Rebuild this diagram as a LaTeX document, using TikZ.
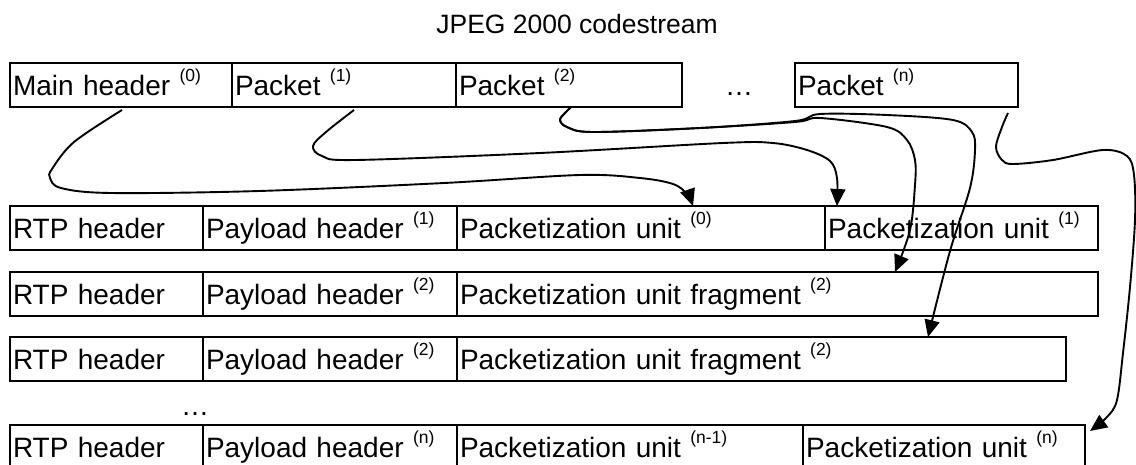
\documentclass[tikz,border=0pt]{standalone}
\usepackage{fontspec}
\setmainfont{Liberation Sans}
\usetikzlibrary{arrows.meta,calc}
\newcommand\mysup[1]{\raisebox{13.5pt}{\fontsize{17.5pt}{17.5pt}\selectfont(#1)}}
\begin{document}
\begin{tikzpicture}[x=1pt,y=-1pt,
  cell/.style={draw, line width=1.8pt, anchor=north west, outer sep=0pt,
    minimum height=44pt, inner xsep=3pt, inner ysep=0pt, align=left,
    text height=20pt, text depth=0pt, font=\fontsize{28pt}{33pt}\selectfont},
  plain/.style={font=\fontsize{28pt}{33pt}\selectfont, anchor=base, inner sep=0pt},
  conn/.style={line width=1.9pt, -{Triangle[length=17pt,width=15pt]}}]
\useasboundingbox (0,0) rectangle (1136,464);
\clip (0,0) rectangle (1136,464);
% title
\node[font=\fontsize{26.5pt}{30pt}\selectfont, anchor=base, inner sep=0pt] (title) at (577,33) {JPEG 2000 codestream};
% codestream
\node[cell, text width=216pt] (main) at (10,63) {Main header \mysup{0}};
\node[cell, text width=218pt] (p1) at (main.north east) {Packet \mysup{1}};
\node[cell, text width=220pt] (p2) at (p1.north east) {Packet \mysup{2}};
\node[plain] (dotsA) at (739,95) {…};
\node[cell, text width=217pt] (pn) at (795,63) {Packet \mysup{n}};
% row 1
\node[cell, text width=187pt] (rtp1) at (10,206) {RTP header};
\node[cell, text width=248pt] (ph1) at (rtp1.north east) {Payload header \mysup{1}};
\node[cell, text width=362pt] (pu0) at (ph1.north east) {Packetization unit \mysup{0}};
\node[cell, text width=267pt] (pu1) at (pu0.north east) {Packetization unit \mysup{1}};
% row 2
\node[cell, text width=187pt] (rtp2) at (10,272) {RTP header};
\node[cell, text width=248pt] (ph2) at (rtp2.north east) {Payload header \mysup{2}};
\node[cell, text width=635pt] (pfa) at (ph2.north east) {Packetization unit fragment \mysup{2}};
% row 3
\node[cell, text width=187pt] (rtp3) at (10,337) {RTP header};
\node[cell, text width=248pt] (ph3) at (rtp3.north east) {Payload header \mysup{2}};
\node[cell, text width=603pt] (pfb) at (ph3.north east) {Packetization unit fragment \mysup{2}};
\node[plain] (dotsB) at (195,415) {…};
% row 4
\node[cell, text width=187pt] (rtp4) at (10,425) {RTP header};
\node[cell, text width=248pt] (phn) at (rtp4.north east) {Payload header \mysup{n}};
\node[cell, text width=340pt] (pun1) at (phn.north east) {Packetization unit \mysup{n-1}};
\node[cell, text width=276pt] (pun) at (pun1.north east) {Packetization unit \mysup{n}};
% connector ends
\coordinate (s1) at ($(main.south west)+(112,3)$);
\coordinate (e1) at ($(pu0.north west)+(236,0)$);
\coordinate (s2) at ($(p1.south west)+(122,3)$);
\coordinate (e2) at ($(pu1.north west)+(12,0)$);
\coordinate (s3) at ($(p2.south west)+(115,0)$);
\coordinate (e3) at ($(pfa.north west)+(438,0)$);
\coordinate (e4) at ($(pfb.north west)+(471,0)$);
\coordinate (s5) at ($(pn.south west)+(213,6)$);
\coordinate (e5) at ($(pun.north east)+(5,6)$);
% connectors
\draw[conn] plot[smooth, tension=0.55] coordinates {(s1) (74,142) (52,169) (50,178) (61,188) (111,193) (259,191) (444,183) (580,175) (640,178) (673,184) (687,194) (e1)};
\draw[conn] plot[smooth, tension=0.55] coordinates {(s2) (326,132) (313,146) (322,156) (355,160) (540,153) (723,143) (773,143) (807,150) (830,161) (837,178) (e2)};
\draw[conn] plot[smooth, tension=0.55] coordinates {(s3) (565,113) (560,120) (567,127) (593,132) (700,128) (795,122) (820,118) (887,127) (907,140) (915,160) (915,185) (910,230) (e3)};
\draw[conn] plot[smooth, tension=0.55] coordinates {(s3) (565,113) (560,120) (567,127) (593,132) (700,128) (795,121) (820,114) (887,115) (953,120) (972,132) (975,150) (970,188) (950,251) (e4)};
\draw[conn] plot[smooth, tension=0.55] coordinates {(s5) (1002,127) (996,147) (1002,160) (1013,164) (1053,160) (1103,150) (1127,156) (1134,175) (1135,220) (1130,287) (1123,353) (1117,400) (1107,417) (e5)};
\end{tikzpicture}
\end{document}
